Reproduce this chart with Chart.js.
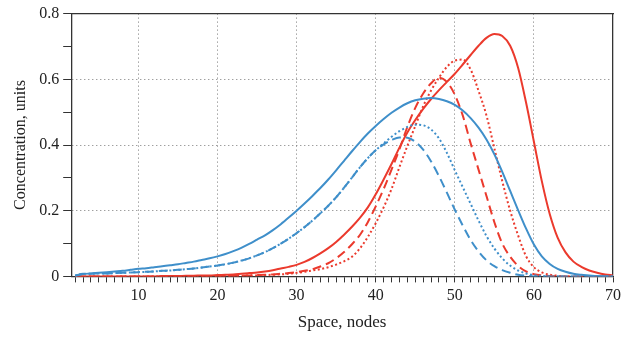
<!DOCTYPE html>
<html>
<head>
<meta charset="utf-8">
<script src="https://cdn.jsdelivr.net/npm/chart.js@4/dist/chart.umd.min.js"></script>
<style>
  body { margin: 0; background: #fff; }
  canvas { display: block; }
</style>
</head>
<body>
<canvas id="chart" width="633" height="337"></canvas>
<script>
// Space axis (nodes)
const nodes = [2, 3, 4, 5, 6, 7, 8, 9, 10, 11, 12, 13, 14, 15, 16, 17, 18, 19, 20,
  21, 22, 23, 24, 25, 26, 27, 28, 29, 30, 31, 32, 33, 34, 35, 36, 37, 38, 39, 40,
  41, 42, 43, 44, 45, 46, 47, 48, 49, 50, 51, 52, 53, 54, 55, 56, 57, 58, 59, 60,
  61, 62, 63, 64, 65, 66, 67, 68, 69, 70];

// Blue curves (nodes 2..70)
const blueSolid = [0.002, 0.007, 0.009, 0.011, 0.013, 0.015, 0.017, 0.020, 0.023,
  0.025, 0.028, 0.031, 0.034, 0.037, 0.041, 0.045, 0.050, 0.055, 0.061,
  0.068, 0.077, 0.087, 0.099, 0.112, 0.125, 0.141, 0.159, 0.179, 0.200,
  0.222, 0.245, 0.269, 0.295, 0.323, 0.352, 0.381, 0.409, 0.435, 0.458,
  0.479, 0.498, 0.514, 0.527, 0.536, 0.541, 0.543, 0.540, 0.533, 0.522,
  0.505, 0.482, 0.453, 0.417, 0.372, 0.318, 0.260, 0.202, 0.146, 0.097,
  0.061, 0.038, 0.023, 0.014, 0.008, 0.005, 0.003, 0.001, 0.000, 0.000];
const blueDashed = [0.002, 0.008, 0.008, 0.009, 0.009, 0.010, 0.011, 0.012, 0.013,
  0.014, 0.015, 0.017, 0.018, 0.020, 0.022, 0.024, 0.027, 0.030, 0.033,
  0.037, 0.042, 0.048, 0.055, 0.064, 0.074, 0.086, 0.100, 0.115, 0.132,
  0.150, 0.170, 0.192, 0.215, 0.241, 0.270, 0.301, 0.332, 0.360, 0.384,
  0.402, 0.415, 0.423, 0.422, 0.410, 0.386, 0.350, 0.305, 0.255, 0.203,
  0.155, 0.111, 0.076, 0.049, 0.031, 0.019, 0.011, 0.005, 0.002, 0.000,
  0.000, 0.000, 0.000, 0.000, 0.000, 0.000, 0.000, 0.000, 0.000, 0.000];
const blueDotted = [0.002, 0.008, 0.008, 0.009, 0.009, 0.010, 0.011, 0.012, 0.013,
  0.014, 0.015, 0.017, 0.018, 0.020, 0.022, 0.024, 0.027, 0.030, 0.033,
  0.037, 0.042, 0.048, 0.055, 0.064, 0.074, 0.086, 0.100, 0.115, 0.132,
  0.150, 0.170, 0.192, 0.215, 0.241, 0.270, 0.301, 0.332, 0.360, 0.384,
  0.405, 0.425, 0.442, 0.455, 0.462, 0.460, 0.447, 0.420, 0.376, 0.323,
  0.272, 0.221, 0.170, 0.123, 0.085, 0.055, 0.033, 0.018, 0.009, 0.004,
  0.001, 0.000, 0.000, 0.000, 0.000, 0.000, 0.000, 0.000, 0.000, 0.000];

// Red curves (nodes 2..70)
const redSolid = [0.000, 0.000, 0.000, 0.000, 0.000, 0.000, 0.000, 0.000, 0.000,
  0.000, 0.000, 0.001, 0.001, 0.001, 0.002, 0.002, 0.003, 0.003, 0.004,
  0.005, 0.006, 0.008, 0.010, 0.012, 0.015, 0.019, 0.024, 0.029, 0.035,
  0.044, 0.056, 0.070, 0.086, 0.105, 0.127, 0.151, 0.178, 0.210, 0.250,
  0.295, 0.342, 0.392, 0.438, 0.476, 0.510, 0.540, 0.567, 0.592, 0.617,
  0.645, 0.674, 0.702, 0.726, 0.738, 0.732, 0.702, 0.635, 0.530, 0.410,
  0.290, 0.190, 0.118, 0.073, 0.045, 0.029, 0.018, 0.011, 0.006, 0.003];
const redDashed = [0.000, 0.000, 0.000, 0.000, 0.000, 0.000, 0.000, 0.000, 0.000,
  0.000, 0.000, 0.000, 0.000, 0.000, 0.000, 0.000, 0.000, 0.000, 0.001,
  0.001, 0.002, 0.002, 0.003, 0.004, 0.005, 0.006, 0.008, 0.010, 0.013,
  0.017, 0.022, 0.030, 0.040, 0.055, 0.074, 0.098, 0.126, 0.165, 0.213,
  0.266, 0.325, 0.387, 0.455, 0.513, 0.557, 0.588, 0.605, 0.592, 0.553,
  0.490, 0.405, 0.325, 0.245, 0.165, 0.100, 0.060, 0.032, 0.015, 0.007,
  0.003, 0.001, 0.000, 0.000, 0.000, 0.000, 0.000, 0.000, 0.000, 0.000];
const redDotted = [0.000, 0.000, 0.000, 0.000, 0.000, 0.000, 0.000, 0.000, 0.000,
  0.000, 0.000, 0.000, 0.000, 0.000, 0.000, 0.000, 0.000, 0.000, 0.001,
  0.001, 0.002, 0.002, 0.003, 0.003, 0.004, 0.005, 0.006, 0.008, 0.011,
  0.014, 0.018, 0.022, 0.028, 0.036, 0.046, 0.060, 0.085, 0.120, 0.162,
  0.210, 0.266, 0.333, 0.397, 0.458, 0.518, 0.566, 0.605, 0.638, 0.657,
  0.660, 0.630, 0.565, 0.490, 0.390, 0.290, 0.200, 0.125, 0.062, 0.028,
  0.012, 0.005, 0.002, 0.000, 0.000, 0.000, 0.000, 0.000, 0.000, 0.000];

const BLUE = '#3f8fca';
const RED = '#eb3a2d';
const AXIS = '#333';
const GRID = '#777';
const FONT = 'Liberation Serif';

function toPoints(values) {
    return nodes.map((x, i) => ({ x: x, y: values[i] }));
}

function makeLine(values, color, dash) {
    return {
        data: toPoints(values),
        borderColor: color,
        borderWidth: 2,
        borderDash: dash,
        borderCapStyle: 'butt',
        pointRadius: 0,
        fill: false,
        cubicInterpolationMode: 'monotone'
    };
}

const datasets = [
    makeLine(blueSolid, BLUE, []),
    makeLine(blueDashed, BLUE, [9, 5]),
    makeLine(blueDotted, BLUE, [2, 2.5]),
    makeLine(redSolid, RED, []),
    makeLine(redDashed, RED, [9, 5]),
    makeLine(redDotted, RED, [2, 2.5])
];

// plain frame lines for top and right side
const frameAxis = (pos) => ({
    type: 'linear',
    position: pos,
    display: true,
    ticks: { display: false },
    grid: { display: false, drawTicks: false },
    border: { display: true, color: AXIS, width: 1.3 }
});

new Chart(document.getElementById('chart').getContext('2d'), {
    type: 'line',
    data: { datasets: datasets },
    options: {
        responsive: false,
        animation: false,
        layout: { padding: { left: 11, right: 20, top: 4, bottom: 4 } },
        plugins: {
            legend: { display: false },
            tooltip: { enabled: false }
        },
        scales: {
            x: {
                type: 'linear',
                min: 1.5,
                max: 70,
                ticks: {
                    stepSize: 1,
                    autoSkip: false,
                    includeBounds: false,
                    maxRotation: 0,
                    minRotation: 0,
                    padding: 4,
                    color: '#222',
                    font: { family: FONT, size: 16 },
                    callback: v => (v % 10 === 0 ? v : '')
                },
                grid: {
                    color: ctx => (ctx.tick && ctx.tick.value % 10 === 0 && ctx.tick.value < 70) ? GRID : 'rgba(0,0,0,0)',
                    lineWidth: 1,
                    tickColor: AXIS,
                    tickLength: 6,
                    tickBorderDash: []
                },
                border: { color: AXIS, width: 1.3, dash: [1, 3] },
                title: {
                    display: true,
                    text: 'Space, nodes',
                    color: '#222',
                    font: { family: FONT, size: 17 },
                    padding: { top: 3, bottom: 0 }
                }
            },
            y: {
                type: 'linear',
                min: 0,
                max: 0.8,
                ticks: {
                    stepSize: 0.1,
                    autoSkip: false,
                    padding: 4,
                    color: '#222',
                    font: { family: FONT, size: 16 },
                    callback: v => (Math.round(v * 10) % 2 === 0 ? String(Math.round(v * 10) / 10) : '')
                },
                grid: {
                    color: ctx => {
                        const k = ctx.tick ? Math.round(ctx.tick.value * 10) : -1;
                        return (k === 2 || k === 4 || k === 6) ? GRID : 'rgba(0,0,0,0)';
                    },
                    lineWidth: 1,
                    tickColor: AXIS,
                    tickLength: 8,
                    tickBorderDash: []
                },
                border: { color: AXIS, width: 1.3, dash: [1, 3] },
                title: {
                    display: true,
                    text: 'Concentration, units',
                    color: '#222',
                    font: { family: FONT, size: 16 },
                    padding: { top: 0, bottom: 5 }
                }
            },
            xTop: frameAxis('top'),
            yRight: frameAxis('right')
        }
    }
});
</script>
</body>
</html>
